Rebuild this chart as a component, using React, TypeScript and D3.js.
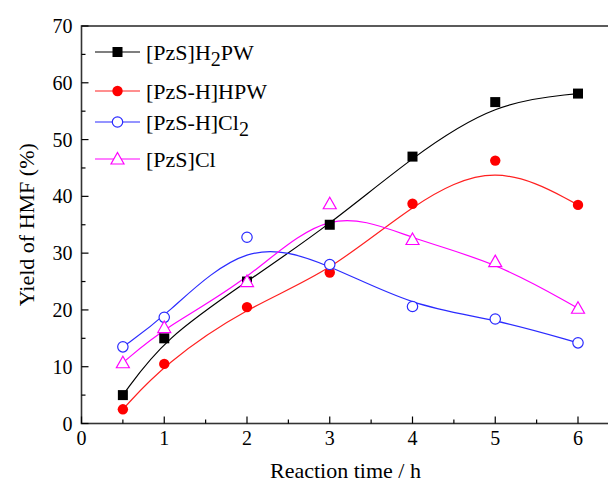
import React from 'react';
import * as d3 from 'd3';

const times = [0.5, 1, 2, 3, 4, 5, 6];
const h2pw = [5, 15, 25, 35, 47, 56.6, 58.1];
const hhpw = [2.5, 10.5, 20.5, 26.6, 38.7, 46.3, 38.5];
const hcl2 = [13.5, 18.7, 32.8, 28, 20.6, 18.4, 14.2];
const pzscl = [10.7, 16.9, 25, 38.7, 32.4, 28.5, 20.3];
const xTicks = [0, 1, 2, 3, 4, 5, 6];
const yTicks = [0, 10, 20, 30, 40, 50, 60, 70];

const series = [
  { name: '[PzS]H', sub: '2', tail: 'PW', values: h2pw, color: '#000', line: '#000', marker: 'square', fill: true },
  { name: '[PzS-H]HPW', sub: '', tail: '', values: hhpw, color: '#ff0000', line: '#ff2020', marker: 'circle', fill: true },
  { name: '[PzS-H]Cl', sub: '2', tail: '', values: hcl2, color: '#2b2bff', line: '#2b2bff', marker: 'circle', fill: false },
  { name: '[PzS]Cl', sub: '', tail: '', values: pzscl, color: '#ff00ff', line: '#ff00ff', marker: 'triangle', fill: false },
];

const left = 81.5, top = 26, bottom = 423.5;
const x = d3.scaleLinear().domain([0, 6.5]).range([left, left + 6.5 * 82.75]);
const y = d3.scaleLinear().domain([0, 70]).range([bottom, top]);
const font = { fontFamily: 'Liberation Serif' };

const line = d3.line<number>()
  .x((d, i) => x(times[i]))
  .y(d => y(d))
  .curve(d3.curveBasis);

const Marker = ({ s, cx, cy }: any) => {
  const fill = s.fill ? s.color : '#fff';
  if (s.marker === 'square') {
    return <rect x={cx - 5} y={cy - 5} width={10} height={10} fill={fill} />;
  }
  if (s.marker === 'circle') {
    return <circle cx={cx} cy={cy} r={5.2} fill={fill} stroke={s.color} strokeWidth={s.fill ? 0 : 1.2} />;
  }
  return <path d={`M${cx},${cy - 6.5}L${cx + 6.5},${cy + 5}L${cx - 6.5},${cy + 5}Z`}
    fill={fill} stroke={s.color} strokeWidth={1.2} />;
};

const legendRows = [52, 91, 122, 159];

const App = () => {
  const xMinor = d3.range(0.5, 6.5, 1);
  const yMinor = d3.range(5, 70, 10);
  return (
    <div style={{ position: 'absolute', left: 0, top: 0, fontFamily: 'Liberation Serif' }}>
      <svg width={608} height={489}>
        <rect x={x(0)} y={y(70)} width={x(6.5) - x(0)} height={y(0) - y(70)}
          fill="none" stroke="#333" strokeWidth={1.6} />

        {xTicks.map(d => (
          <line key={'xt' + d} x1={x(d)} x2={x(d)} y1={bottom} y2={bottom - 7} stroke="#000" strokeWidth={1.2} />
        ))}
        {xTicks.map(d => (
          <text key={'xl' + d} x={x(d)} y={bottom + 21} textAnchor="middle" fontSize={20} style={font}>{`${d}`}</text>
        ))}
        {xMinor.map(d => (
          <line key={'xm' + d} x1={x(d)} x2={x(d)} y1={bottom} y2={bottom - 4} stroke="#000" strokeWidth={1.2} />
        ))}
        {yTicks.map(d => (
          <line key={'yt' + d} x1={left} x2={left + 7} y1={y(d)} y2={y(d)} stroke="#000" strokeWidth={1.2} />
        ))}
        {yTicks.map(d => (
          <text key={'yl' + d} x={left - 9} y={y(d) + 7} textAnchor="end" fontSize={20} style={font}>{`${d}`}</text>
        ))}
        {yMinor.map(d => (
          <line key={'ym' + d} x1={left} x2={left + 4} y1={y(d)} y2={y(d)} stroke="#000" strokeWidth={1.2} />
        ))}

        <text x={(x(0) + x(6.5)) / 2 - 5} y={478} textAnchor="middle" fontSize={22} style={font}>
          {'Reaction time / h'}
        </text>
        <text transform={`translate(34, ${(top + bottom) / 2}) rotate(-90)`} textAnchor="middle"
          fontSize={22} style={font}>
          {'Yield of HMF (%)'}
        </text>

        {series.map(s => (
          <path key={'l' + s.name} d={line(s.values) || ''} fill="none" stroke={s.line} strokeWidth={1.2} />
        ))}
        {series.map(s => (
          <g key={'m' + s.name}>
            {s.values.map((v, i) => <Marker key={i} s={s} cx={x(times[i])} cy={y(v)} />)}
          </g>
        ))}

        {series.map((s, i) => {
          const ry = legendRows[i];
          return (
            <g key={'lg' + s.name}>
              <line x1={95} x2={140} y1={ry} y2={ry} stroke={s.line} strokeWidth={1.2} />
              <Marker s={s} cx={117.5} cy={ry} />
              <text x={146} y={ry + 8} fontSize={22} style={font}>
                <tspan>{s.name}</tspan>
                {s.sub ? <tspan dy={6} fontSize={20}>{s.sub}</tspan> : null}
                {s.tail ? <tspan dy={-6}>{s.tail}</tspan> : null}
              </text>
            </g>
          );
        })}
      </svg>
    </div>
  );
};

export default App;
